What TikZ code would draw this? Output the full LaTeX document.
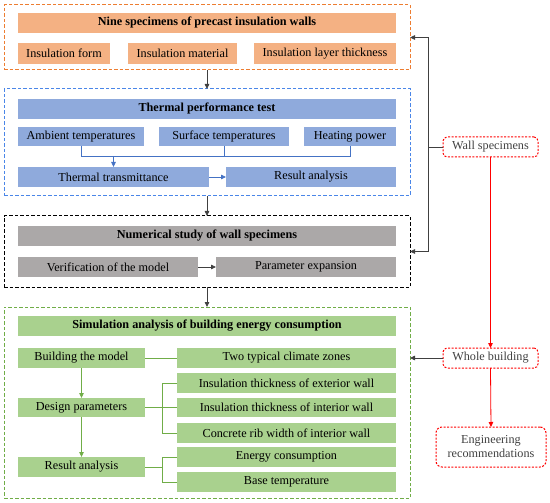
\documentclass[tikz,border=0pt]{standalone}
\usepackage{fontspec}
\setmainfont{Liberation Serif}
\usetikzlibrary{arrows.meta}
\definecolor{ofill}{HTML}{F4B183}
\definecolor{oline}{HTML}{ED7D31}
\definecolor{bfill}{HTML}{8FAADC}
\definecolor{bline}{HTML}{4472C4}
\definecolor{bframe}{HTML}{4A86E8}
\definecolor{gfill}{HTML}{ABA8A8}
\definecolor{nfill}{HTML}{A9D18E}
\definecolor{nline}{HTML}{70AD47}
\definecolor{rline}{HTML}{FF0000}
\definecolor{kline}{HTML}{404040}
\newcommand\bx[7]{\node[#6, minimum width={#4-#2}, minimum height={#5-#3}] (#1) at ({(#2+#4)/2},{(#3+#5)/2}) {#7};}
\begin{document}
\begin{tikzpicture}[x=1pt,y=-1pt,
  box/.style={inner sep=0pt, outer sep=0pt, font=\fontsize{12.2}{14}\selectfont, text=black},
  bold/.style={font=\fontsize{12.2}{14}\selectfont\bfseries},
  obox/.style={box, fill=ofill},
  bbox/.style={box, fill=bfill},
  gbox/.style={box, fill=gfill},
  nbox/.style={box, fill=nfill},
  frame/.style={draw, line width=1pt, dash pattern=on 3.5pt off 2pt, inner sep=0pt, outer sep=0pt},
  rbox/.style={box, draw=rline, text=kline, line width=1pt, dash pattern=on 2pt off 1.5pt, rounded corners=4pt, align=center},
  tip/.style={-{Triangle[length=5pt,width=4.5pt]}},
  kar/.style={tip, draw=kline, line width=0.8pt},
  bar/.style={tip, draw=bline, line width=0.8pt},
  nar/.style={tip, draw=nline, line width=0.8pt},
  rar/.style={tip, draw=rline, line width=0.8pt},
]
\useasboundingbox (0,0) rectangle (550,503);
% frames
\bx{of}{4}{5}{410}{70}{frame, draw=oline}{}
\bx{bf}{4}{89}{410}{196}{frame, draw=bframe}{}
\bx{gf}{4}{216}{410}{287}{frame, draw=black}{}
\bx{nf}{4}{307}{410}{498}{frame, draw=nline}{}
% orange
\bx{ot}{18}{13}{396}{33}{obox, bold}{Nine specimens of precast insulation walls}
\bx{o1}{18}{43}{110}{64}{obox}{Insulation form}
\bx{o2}{128}{43}{237}{64}{obox}{Insulation material}
\bx{o3}{254}{43}{396}{64}{obox}{Insulation layer thickness}
% blue
\bx{bt}{18}{99}{396}{119}{bbox, bold}{Thermal performance test}
\bx{b1}{18}{127}{144}{146}{bbox}{Ambient temperatures}
\bx{b2}{159}{127}{289}{146}{bbox}{Surface temperatures}
\bx{b3}{304}{127}{396}{146}{bbox}{Heating power}
\bx{b4}{18}{167}{209}{187}{bbox}{Thermal transmittance}
\bx{b5}{226}{167}{396}{187}{bbox}{Result analysis}
% gray
\bx{gt}{18}{226}{396}{246}{gbox, bold}{Numerical study of wall specimens}
\bx{g1}{18}{257}{198}{277}{gbox}{Verification of the model}
\bx{g2}{216}{257}{396}{277}{gbox}{Parameter expansion}
% green
\bx{nt}{18}{316}{396}{336}{nbox, bold}{Simulation analysis of building energy consumption}
\bx{n1}{18}{348}{145}{368}{nbox}{Building the model}
\bx{n2}{177}{348}{396}{368}{nbox}{Two typical climate zones}
\bx{n3}{177}{373}{396}{393}{nbox}{Insulation thickness of exterior wall}
\bx{n4}{18}{398}{145}{417}{nbox}{Design parameters}
\bx{n5}{177}{398}{396}{417}{nbox}{Insulation thickness of interior wall}
\bx{n6}{177}{423}{396}{443}{nbox}{Concrete rib width of interior wall}
\bx{n7}{18}{457}{145}{477}{nbox}{Result analysis}
\bx{n8}{177}{447}{396}{467}{nbox}{Energy consumption}
\bx{n9}{177}{472}{396}{492}{nbox}{Base temperature}
% right
\bx{r1}{443}{137}{538}{157}{rbox}{Wall specimens}
\bx{r2}{443}{348}{538}{368}{rbox}{Whole building}
\bx{r3}{436}{427}{546}{467}{rbox, rounded corners=6pt}{Engineering\\recommendations}
% coordinates
\coordinate (bm) at (0,156);
\coordinate (dj) at (162,0);
\coordinate (rj) at (428,0);
% main flow
\draw[kar] (of.south) -- (bf.north);
\draw[kar] (bf.south) -- (gf.north);
\draw[kar] (gf.south) -- (nf.north);
% blue connectors
\draw[draw=bline, line width=0.8pt] (b1.south) -- (b1.south|-bm) -- (b3.south|-bm) -- (b3.south);
\draw[draw=bline, line width=0.8pt] (b2.south) -- (b2.south|-bm);
\draw[bar] (b4.north|-bm) -- (b4.north);
\draw[bar] (b4.east) -- (b5.west);
% gray
\draw[kar] (g1.east) -- (g2.west);
% green
\draw[nar] (n1.south) -- (n4.north);
\draw[nar] (n4.south) -- (n7.north);
\draw[draw=nline, line width=0.8pt] (n1.east) -- (n2.west);
\draw[draw=nline, line width=0.8pt] (n4.east) -- (n5.west);
\draw[draw=nline, line width=0.8pt] (n3.west) -| (dj|-n6.west) -- (n6.west);
\draw[draw=nline, line width=0.8pt] (n7.east) -- (dj|-n7.east);
\draw[draw=nline, line width=0.8pt] (n8.west) -| (dj|-n9.west) -- (n9.west);
% right side
\draw[draw=kline, line width=0.8pt, {Triangle[length=5pt,width=4.5pt]}-{Triangle[length=5pt,width=4.5pt]}] (of.east) -- (of.east-|rj) -- (gf.east-|rj) -- (gf.east);
\draw[draw=kline, line width=0.8pt] (r1.west) -- (r1.west-|rj);
\draw[kar] (r2.west) -- (r2.west-|nf.east);
\draw[rar] (r1.south) -- (r2.north);
\draw[rar] (r2.south) -- (r3.north);
\end{tikzpicture}
\end{document}
